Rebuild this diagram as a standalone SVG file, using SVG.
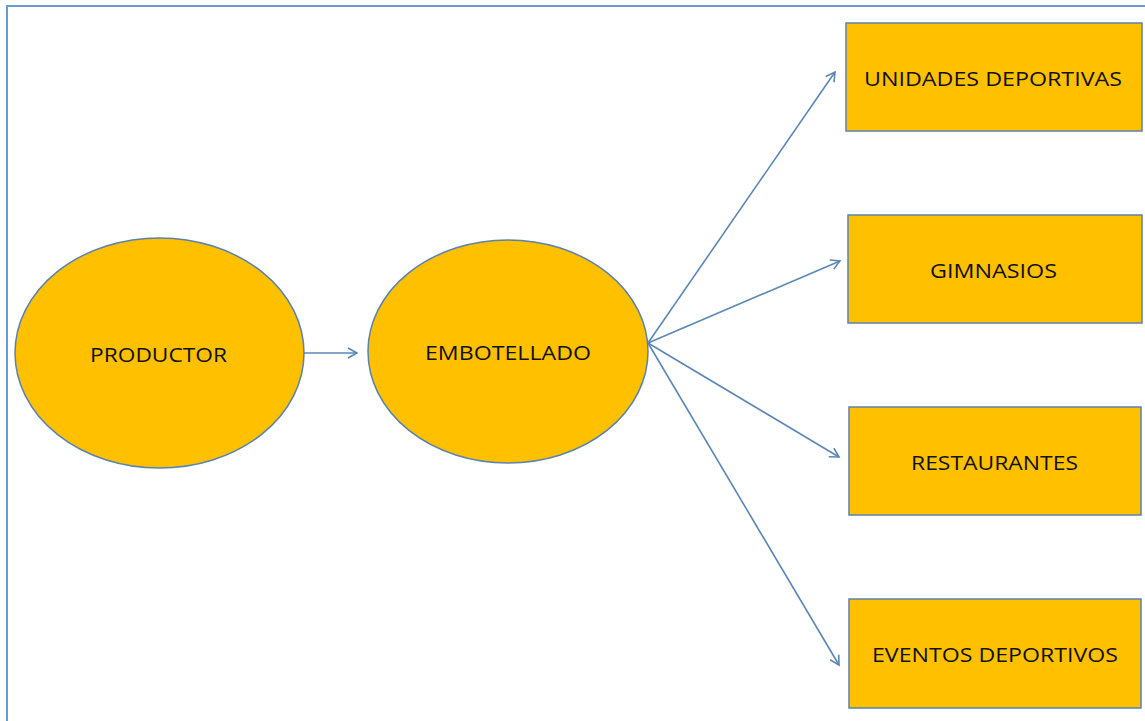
<svg xmlns="http://www.w3.org/2000/svg" width="1145" height="721" viewBox="0 0 1145 721">
<style>
.node{fill:#FFC000;stroke:#5A82AE;stroke-width:1.5}
.lbl{font-family:"Open Sans","Liberation Sans",sans-serif;font-size:20.5px;fill:#111111;text-anchor:middle}
.conn{stroke:#5B87B5;stroke-width:1.6;fill:none;marker-end:url(#arr)}
</style>
<defs>
<marker id="arr" markerWidth="14" markerHeight="14" refX="10" refY="6" orient="auto" markerUnits="userSpaceOnUse">
<path d="M1,1 L10,6 L1,11" fill="none" stroke="#5B87B5" stroke-width="1.6"/>
</marker>
</defs>
<rect x="0" y="0" width="1145" height="721" fill="#ffffff"/>
<rect x="7" y="6" width="1150" height="730" fill="none" stroke="#6A9AD4" stroke-width="2"/>
<g id="connectors">
<line class="conn" x1="304" y1="353" x2="357" y2="353"/>
<line class="conn" x1="648" y1="343" x2="835" y2="72"/>
<line class="conn" x1="648" y1="343" x2="840" y2="261"/>
<line class="conn" x1="648" y1="343" x2="839" y2="457"/>
<line class="conn" x1="648" y1="343" x2="839" y2="665"/>
</g>
<g id="productor">
<ellipse class="node" cx="159.5" cy="353" rx="144.5" ry="115"/>
<text class="lbl" x="158.5" y="361.5" textLength="137" lengthAdjust="spacingAndGlyphs">PRODUCTOR</text>
</g>
<g id="embotellado">
<ellipse class="node" cx="508" cy="351.5" rx="140" ry="111.5"/>
<text class="lbl" x="508" y="359.5" textLength="166" lengthAdjust="spacingAndGlyphs">EMBOTELLADO</text>
</g>
<g id="unidades">
<rect class="node" x="846" y="23" width="296" height="108"/>
<text class="lbl" x="993" y="85.5" textLength="258" lengthAdjust="spacingAndGlyphs">UNIDADES DEPORTIVAS</text>
</g>
<g id="gimnasios">
<rect class="node" x="848" y="215" width="294" height="108"/>
<text class="lbl" x="993.5" y="277.5" textLength="127" lengthAdjust="spacingAndGlyphs">GIMNASIOS</text>
</g>
<g id="restaurantes">
<rect class="node" x="849" y="407" width="292" height="108"/>
<text class="lbl" x="994.5" y="469.5" textLength="167" lengthAdjust="spacingAndGlyphs">RESTAURANTES</text>
</g>
<g id="eventos">
<rect class="node" x="849" y="599" width="292" height="109"/>
<text class="lbl" x="995" y="661.5" textLength="246" lengthAdjust="spacingAndGlyphs">EVENTOS DEPORTIVOS</text>
</g>
</svg>
